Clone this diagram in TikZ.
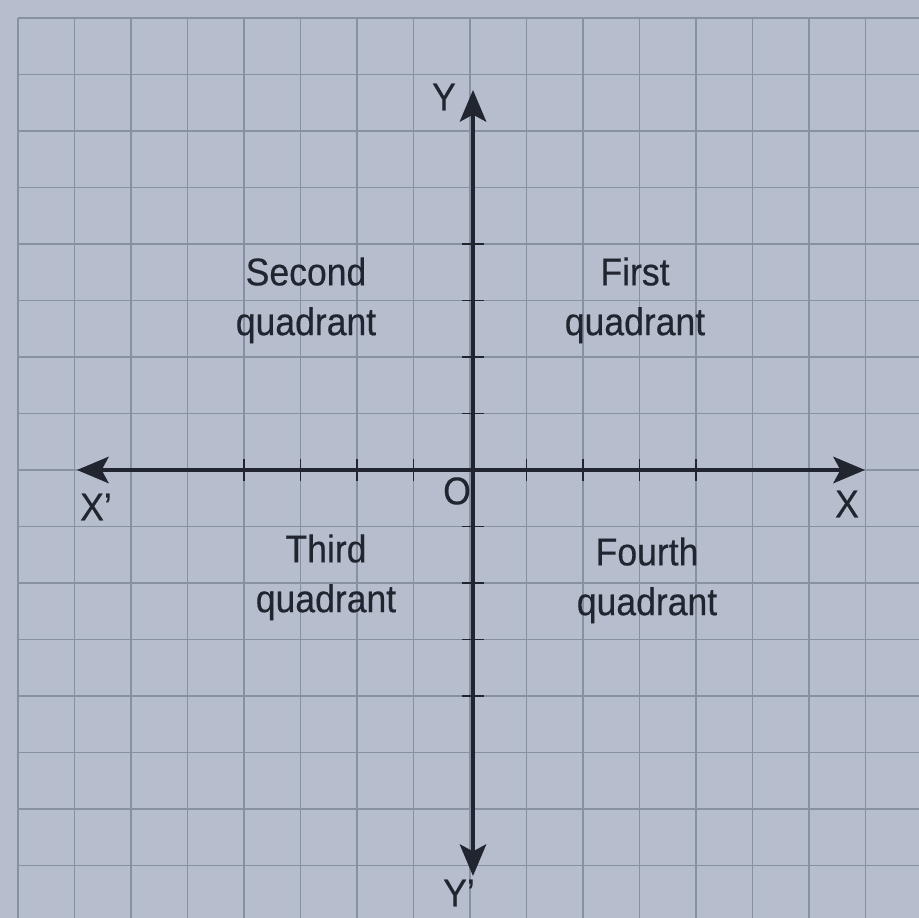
\documentclass[tikz,border=0pt]{standalone}
\usepackage{fontspec}
\setmainfont{Liberation Sans}[FakeStretch=0.92, FakeBold=0.4]
\usetikzlibrary{arrows.meta}
\definecolor{paper}{RGB}{182,190,205}
\definecolor{gridc}{RGB}{136,145,161}
\definecolor{ink}{RGB}{32,37,47}
\tikzset{
  gridline/.style={draw=gridc, line width=0.95pt},
  axisline/.style={draw=ink, line width=2.3pt, -{Stealth[length=18pt, width=15pt, inset=4pt]}},
  tickline/.style={draw=ink, line width=1pt},
  quadlabel/.style={font=\fontsize{22pt}{28.35pt}\selectfont, align=center, anchor=north, inner sep=0pt, text=ink},
  axislabel/.style={font=\fontsize{22pt}{26pt}\selectfont, inner sep=0pt, text=ink}
}
\begin{document}
\begin{tikzpicture}[x=0.02cm, y=-0.02cm]
  \fill[paper] (0,0) rectangle (919,918);
  \useasboundingbox (0,0) rectangle (919,918);
  % grid
  \foreach \k in {0,...,15} {
    \draw[gridline] ({18+56.5*\k},18) -- ({18+56.5*\k},918);
    \draw[gridline] (18,{18+56.5*\k}) -- (919,{18+56.5*\k});
  }
  % axes
  \coordinate (o) at (473,470);
  \coordinate (xl) at (77,470);
  \coordinate (xr) at (865,470);
  \coordinate (yt) at (473,90);
  \coordinate (yb) at (473,876);
  \draw[axisline] (o) -- (xr);
  \draw[axisline] (o) -- (xl);
  \draw[axisline] (o) -- (yt);
  \draw[axisline] (o) -- (yb);
  % ticks
  \foreach \k in {4,5,6,7,9,10,11,12} {
    \draw[tickline] ({18+56.5*\k},459) -- ({18+56.5*\k},481);
    \draw[tickline] (462,{18+56.5*\k}) -- (484,{18+56.5*\k});
  }
  % axis labels
  \node[axislabel] (Ylab) at (444,97) {Y};
  \node[axislabel] (Yplab) at (459,893) {Y'};
  \node[axislabel] (Xplab) at (96,507) {X'};
  \node[axislabel] (Xlab) at (847,504) {X};
  \node[axislabel] (Olab) at (457,491) {O};
  % quadrant labels
  \node[quadlabel] (q2) at (306,257) {Second\\quadrant};
  \node[quadlabel] (q1) at (635,257) {First\\quadrant};
  \node[quadlabel] (q3) at (326,534) {Third\\quadrant};
  \node[quadlabel] (q4) at (647,537) {Fourth\\quadrant};
\end{tikzpicture}
\end{document}
